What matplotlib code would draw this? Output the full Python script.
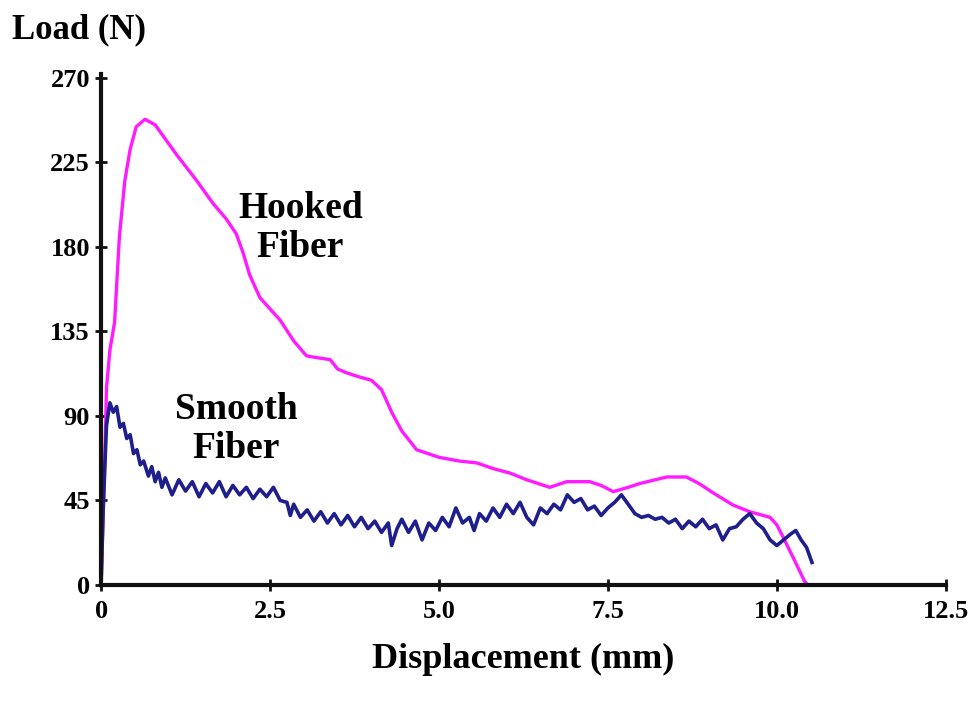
import matplotlib
matplotlib.use("Agg")
import matplotlib.pyplot as plt

# Hooked fiber curve (displacement mm, load N)
hooked_x = [0, 0.05, 0.08, 0.13, 0.2, 0.27, 0.35, 0.43, 0.52, 0.65, 0.8, 0.9, 1.12, 1.4, 1.66, 1.85,
            2.0, 2.1, 2.2, 2.35, 2.65, 2.85, 3.04, 3.2, 3.39, 3.5, 3.63, 3.8, 4.0, 4.15, 4.3, 4.45,
            4.67, 5.0, 5.3, 5.56, 5.8, 6.05, 6.3, 6.64, 6.89, 7.23, 7.4, 7.58, 7.8, 7.97, 8.37, 8.66,
            8.85, 9.06, 9.35, 9.6, 9.9, 10.0, 10.09, 10.25, 10.41, 10.46]
hooked_y = [0, 60, 105, 125, 140, 185, 215, 232, 244, 248, 245, 240, 229, 216, 203, 195,
            187, 177, 165, 153, 141, 130, 122, 121, 120, 115, 113, 111, 109, 104, 92, 82,
            72, 68, 66, 65, 62, 59.6, 56, 52, 55, 55, 53, 49.7, 52, 54, 57.5, 57.5,
            54, 49, 42.6, 39, 36, 32, 25.7, 14, 2, 0]

# Smooth fiber curve
smooth_x = [0, 0.03, 0.08, 0.13, 0.18, 0.23, 0.28, 0.33, 0.38, 0.43, 0.48, 0.53, 0.58, 0.63, 0.7,
            0.75, 0.8, 0.85, 0.9, 0.95, 1.05, 1.15, 1.25, 1.35, 1.45, 1.55, 1.65, 1.75, 1.85, 1.95,
            2.05, 2.15, 2.25, 2.35, 2.45, 2.55, 2.65, 2.75, 2.8, 2.85, 2.95, 3.05, 3.15, 3.25, 3.35,
            3.45, 3.55, 3.65, 3.75, 3.85, 3.95, 4.05, 4.15, 4.25, 4.3, 4.38, 4.45, 4.55, 4.65, 4.75,
            4.85, 4.95, 5.05, 5.15, 5.25, 5.35, 5.45, 5.52, 5.6, 5.7, 5.8, 5.9, 6.0, 6.1, 6.2,
            6.3, 6.4, 6.5, 6.6, 6.7, 6.8, 6.9, 7.0, 7.1, 7.2, 7.3, 7.4, 7.5, 7.6, 7.7,
            7.8, 7.9, 8.0, 8.1, 8.2, 8.3, 8.4, 8.5, 8.6, 8.7, 8.8, 8.9, 9.0, 9.1, 9.2,
            9.3, 9.4, 9.5, 9.6, 9.7, 9.8, 9.9, 10.0, 10.1, 10.2, 10.28, 10.36, 10.44, 10.52]
smooth_y = [0, 40, 85, 97, 92, 95, 84, 86, 78, 80, 70, 72, 64, 66, 58,
            63, 55, 60, 52, 57, 48, 56, 50, 55, 47, 54, 49, 55, 47, 53,
            48, 52, 46, 51, 47, 52, 45, 44, 37, 43, 36, 40, 34, 39, 33,
            38, 32, 37, 31, 36, 30, 34, 28, 33, 21, 30, 35, 28, 34, 24,
            33, 29, 36, 31, 41, 33, 36, 29, 38, 34, 41, 36, 43, 38, 44,
            36, 32, 41, 38, 43, 40, 48, 44, 46, 40, 42, 37, 41, 44, 48,
            43, 38, 36, 37, 35, 36, 33, 35, 30, 34, 31, 35, 30, 32, 24,
            30, 31, 35, 38, 33, 30, 24, 21, 24, 27, 29, 24, 20, 12]

x_ticks = [0, 2.5, 5.0, 7.5, 10.0, 12.5]
x_tick_labels = ["0", "2.5", "5.0", "7.5", "10.0", "12.5"]
y_ticks = [0, 45, 90, 135, 180, 225, 270]
y_tick_labels = ["0", "45", "90", "135", "180", "225", "270"]

serif = ["Liberation Serif", "DejaVu Serif"]

fig = plt.figure(figsize=(9.72, 7.02), dpi=100)
ax = fig.add_axes([0.104, 0.1667, 0.869, 0.7223])

ax.plot(hooked_x, hooked_y, color="#ff1aff", lw=2.4, solid_capstyle="round")
ax.plot(smooth_x, smooth_y, color="#1e1e8c", lw=2.6, solid_joinstyle="round")

ax.set_xlim(0, 12.5)
ax.set_ylim(0, 270)
ax.set_xticks(x_ticks)
ax.set_xticklabels(x_tick_labels)
ax.set_yticks(y_ticks)
ax.set_yticklabels(y_tick_labels)

for s in ["top", "right"]:
    ax.spines[s].set_visible(False)
for s in ["left", "bottom"]:
    ax.spines[s].set_linewidth(3)
    ax.spines[s].set_color("#111111")
ax.spines["left"].set_bounds(0, 272)

ax.tick_params(axis="both", direction="inout", length=8, width=2, color="#111111")
ax.tick_params(axis="y", pad=4)
ax.tick_params(axis="x", pad=7)
for lab in ax.get_xticklabels() + ax.get_yticklabels():
    lab.set_fontfamily(serif)
    lab.set_fontweight("bold")
    lab.set_fontsize(19)

fig.text(0.012, 0.958, "Load (N)", fontsize=25, fontweight="bold", family=serif,
         ha="left", va="center")
fig.text(0.538, 0.06, "Displacement (mm)", fontsize=26, fontweight="bold", family=serif,
         ha="center", va="center")

ax.text(2.95, 190, "Hooked\nFiber", fontsize=27, fontweight="bold", family=serif,
        ha="center", va="center", linespacing=1.15)
ax.text(2.0, 83, "Smooth\nFiber", fontsize=27, fontweight="bold", family=serif,
        ha="center", va="center", linespacing=1.15)

fig.savefig("out.png", dpi=100)
